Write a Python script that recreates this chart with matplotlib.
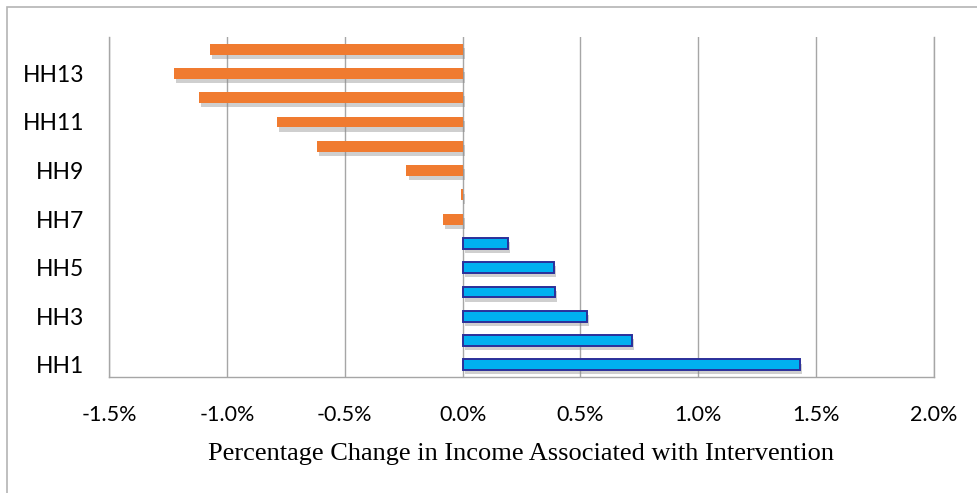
import matplotlib
matplotlib.use("Agg")
import matplotlib.pyplot as plt
import matplotlib.patheffects as pe
from matplotlib.patches import Rectangle
from matplotlib.ticker import FuncFormatter, MultipleLocator

households = ["HH1", "HH2", "HH3", "HH4", "HH5", "HH6", "HH7",
              "HH8", "HH9", "HH10", "HH11", "HH12", "HH13", "HH14"]
pct_change = [1.433, 0.72, 0.527, 0.392, 0.387, 0.191, -0.085,
              -0.005, -0.238, -0.616, -0.786, -1.12, -1.223, -1.07]

fig = plt.figure(figsize=(9.77, 4.93), dpi=100)
# chart-area frame; only its top and left edges fall inside the canvas
fig.patches.append(Rectangle((7 / 977, -0.5), 1.2, 1.5 - 7 / 493,
                             transform=fig.transFigure, fill=False,
                             edgecolor="#b4b4b4", linewidth=1.2))

ax = fig.add_axes([109 / 977, 1 - 377 / 493, (934 - 109) / 977, (377 - 37) / 493])

ypos = list(range(len(households)))
shadow = [pe.SimplePatchShadow(offset=(1.5, -3), shadow_rgbFace="#888888", alpha=0.4), pe.Normal()]
for y, v in zip(ypos, pct_change):
    if v >= 0:
        b = ax.barh(y, v, height=0.45, color="#00b0f0", edgecolor="#2b2f9a",
                    linewidth=1.4, zorder=3)
    else:
        b = ax.barh(y, v, height=0.45, color="#f07b30", edgecolor="none", zorder=3)
    for p in b.patches:
        p.set_path_effects(shadow)

ax.set_xlim(-1.5, 2.0)
ax.set_ylim(-0.5, len(households) - 0.5)
ax.xaxis.set_major_locator(MultipleLocator(0.5))
ax.xaxis.set_major_formatter(FuncFormatter(lambda x, _: f"{x:.1f}%"))
ax.set_yticks(ypos[::2])
ax.set_yticklabels(households[::2])

ax.grid(axis="x", color="#a6a6a6", linewidth=1.0, zorder=0)
ax.spines["top"].set_visible(False)
for side in ["left", "bottom", "right"]:
    ax.spines[side].set_color("#a6a6a6")
    ax.spines[side].set_linewidth(1.0)
ax.tick_params(length=0)
ax.tick_params(axis="x", labelsize=15.5, pad=20)
ax.tick_params(axis="y", labelsize=16.5, pad=18)
for lbl in ax.get_xticklabels() + ax.get_yticklabels():
    lbl.set_fontfamily("Lato")

ax.set_xlabel("Percentage Change in Income Associated with Intervention",
              fontfamily="Liberation Serif", fontsize=19, labelpad=13)

fig.savefig("out.png", dpi=100)
